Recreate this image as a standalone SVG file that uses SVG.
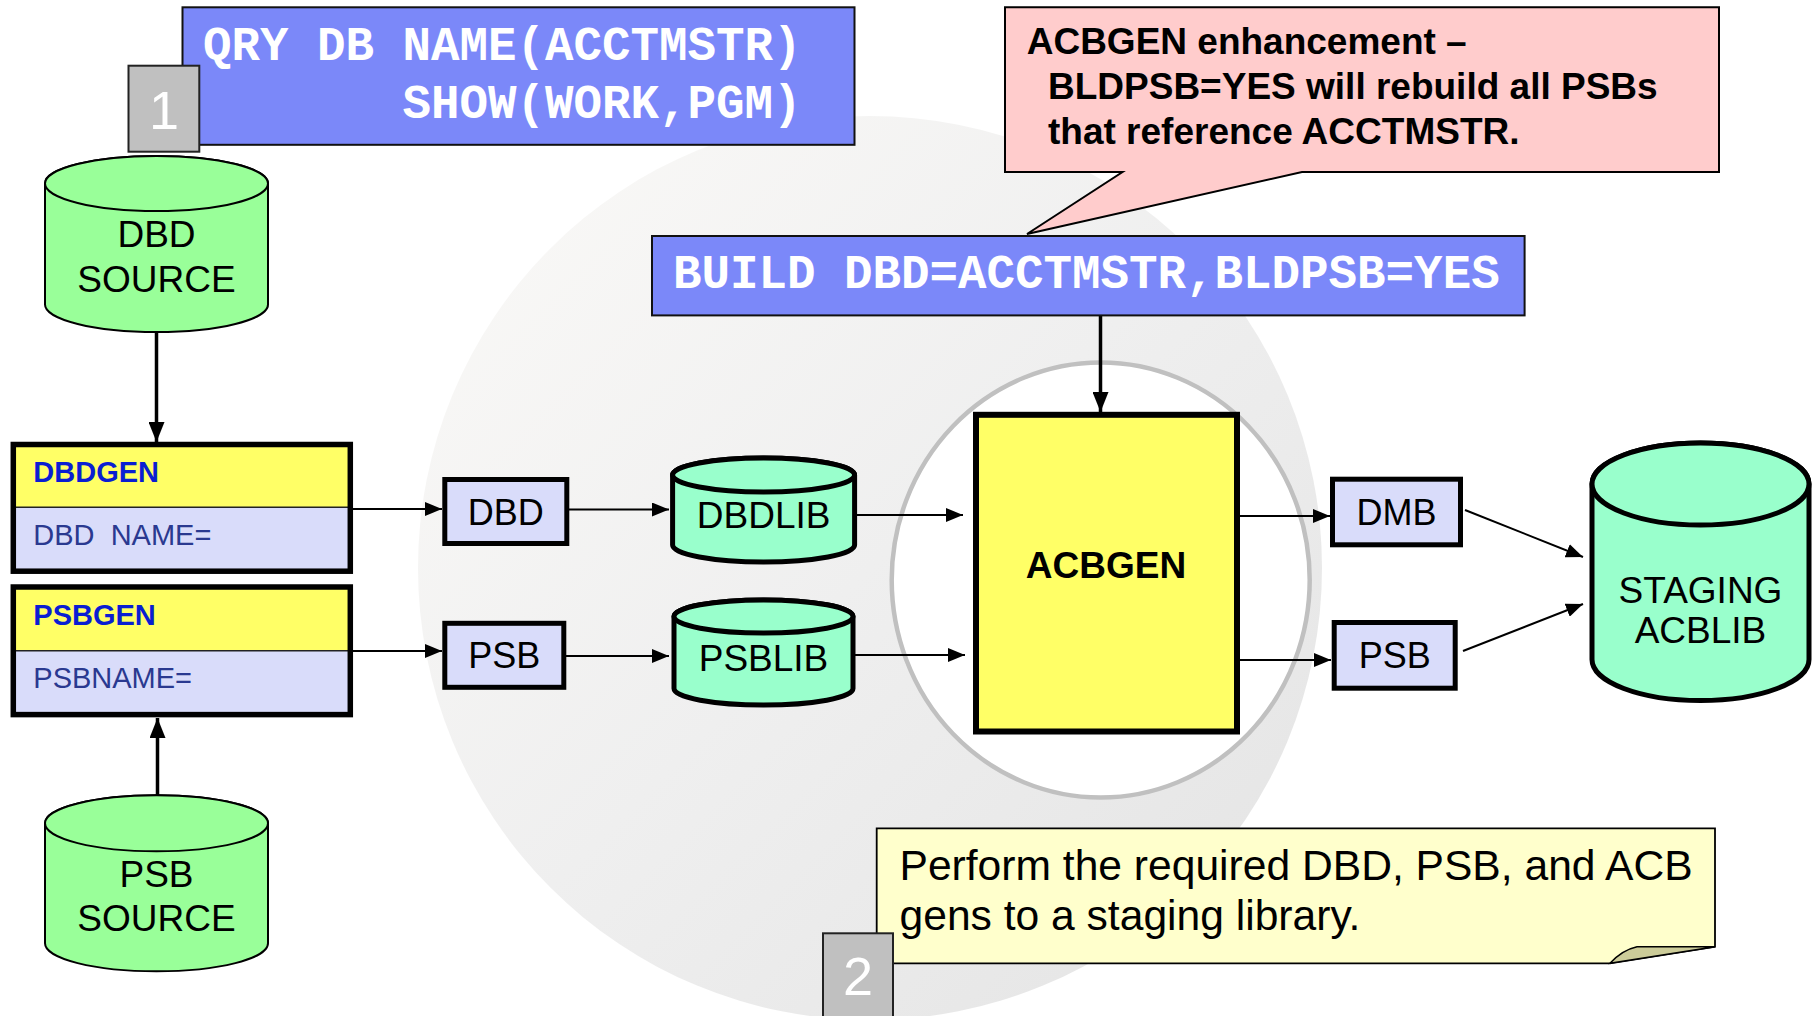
<svg xmlns="http://www.w3.org/2000/svg" width="1818" height="1016" viewBox="0 0 1818 1016">
<defs>
<style>
.sans{font-family:"Liberation Sans",Arial,sans-serif;}
.mono{font-family:"Liberation Mono","Courier New",monospace;font-weight:bold;font-size:47.5px;fill:#ffffff;}
.cmd{fill:#7B88F9;stroke:#111;stroke-width:2;}
.num{fill:#C0C0C0;stroke:#222;stroke-width:2;}
.numt{font-family:"Liberation Sans",Arial,sans-serif;font-size:54px;fill:#ffffff;text-anchor:middle;}
.cyl1{fill:#99FF99;stroke:#000;stroke-width:2;}
.cyl2{fill:#99FFCC;stroke:#000;stroke-width:5;}
.box{fill:#D9DCFA;stroke:#000;stroke-width:5;}
.lbl{font-family:"Liberation Sans",Arial,sans-serif;font-size:36px;fill:#000;text-anchor:middle;}
.gen{font-family:"Liberation Sans",Arial,sans-serif;font-size:29px;font-weight:bold;fill:#0A1ED2;}
.genb{font-family:"Liberation Sans",Arial,sans-serif;font-size:29px;fill:#2A3990;}
.thin{stroke:#000;stroke-width:2;fill:none;marker-end:url(#ah);}
.thick{stroke:#000;stroke-width:3.5;fill:none;marker-end:url(#ahb);}
</style>
<marker id="ah" markerUnits="userSpaceOnUse" markerWidth="17" markerHeight="14" refX="17" refY="7" orient="auto">
<path d="M0,0 L17,7 L0,14 z" fill="#000"/>
</marker>
<marker id="ahb" markerUnits="userSpaceOnUse" markerWidth="20" markerHeight="16" refX="20" refY="8" orient="auto">
<path d="M0,0 L20,8 L0,16 z" fill="#000"/>
</marker>
<linearGradient id="bg" x1="0" y1="0" x2="1" y2="1">
<stop offset="0" stop-color="#FBFAF8"/>
<stop offset="0.5" stop-color="#EFEFEF"/>
<stop offset="1" stop-color="#E3E3E3"/>
</linearGradient>
</defs>
<rect x="0" y="0" width="1818" height="1016" fill="#ffffff"/>
<circle cx="870" cy="568" r="452" fill="url(#bg)"/>

<g id="acbgen-ring">
<ellipse cx="1100.7" cy="580" rx="209" ry="217.5" fill="#ffffff" stroke="#C0C0C0" stroke-width="4.5"/>
</g>

<g id="connectors">
<line class="thick" x1="156.5" y1="332" x2="156.5" y2="442"/>
<line class="thick" x1="157.5" y1="795" x2="157.5" y2="718"/>
<line class="thin" x1="353" y1="509" x2="442" y2="509"/>
<line class="thin" x1="353" y1="651" x2="442" y2="651"/>
<line class="thin" x1="569" y1="509.5" x2="669" y2="509.5"/>
<line class="thin" x1="566" y1="656" x2="669" y2="656"/>
<line class="thin" x1="855" y1="515" x2="963" y2="515"/>
<line class="thin" x1="853" y1="655" x2="965" y2="655"/>
<line class="thick" x1="1100.5" y1="315" x2="1100.5" y2="412"/>
<line class="thin" x1="1240" y1="516" x2="1330" y2="516"/>
<line class="thin" x1="1240" y1="660" x2="1331" y2="660"/>
<line class="thin" x1="1465" y1="510" x2="1583" y2="557"/>
<line class="thin" x1="1463" y1="651" x2="1583" y2="604"/>
</g>

<g id="qry">
<rect class="cmd" x="182.5" y="7.3" width="672" height="137.5"/>
<text class="mono" x="203" y="60">QRY DB NAME(ACCTMSTR)</text>
<text class="mono" x="402.5" y="118">SHOW(WORK,PGM)</text>
</g>

<g id="step1">
<rect class="num" x="128.5" y="65.7" width="70.8" height="86"/>
<text class="numt" x="164" y="129">1</text>
</g>

<g id="dbd-source">
<path class="cyl1" d="M45,183.5 L45,304.5 A111.5,27.5 0 0 0 268,304.5 L268,183.5 A111.5,27.5 0 0 0 45,183.5 Z"/>
<ellipse class="cyl1" cx="156.5" cy="183.5" rx="111.5" ry="27.5"/>
<text class="lbl" x="156.5" y="247" style="font-size:37px">DBD</text>
<text class="lbl" x="156.5" y="292" style="font-size:37px">SOURCE</text>
</g>

<g id="psb-source">
<path class="cyl1" d="M45,823.3 L45,943.3 A111.5,28 0 0 0 268,943.3 L268,823.3 A111.5,28 0 0 0 45,823.3 Z"/>
<ellipse class="cyl1" cx="156.5" cy="823.3" rx="111.5" ry="28"/>
<text class="lbl" x="156.5" y="887" style="font-size:37px">PSB</text>
<text class="lbl" x="156.5" y="931" style="font-size:37px">SOURCE</text>
</g>

<g id="dbdgen">
<rect x="13.3" y="444.5" width="337" height="62.8" fill="#FFFF66"/>
<rect x="13.3" y="507.3" width="337" height="63.9" fill="#D9DCFA"/>
<line x1="13.3" y1="507.3" x2="350.3" y2="507.3" stroke="#222" stroke-width="1.5"/>
<rect x="13.3" y="444.5" width="337" height="126.7" fill="none" stroke="#000" stroke-width="5.5"/>
<text class="gen" x="33.3" y="481.7">DBDGEN</text>
<text class="genb" x="33.3" y="545" xml:space="preserve">DBD  NAME=</text>
</g>

<g id="psbgen">
<rect x="13.3" y="587" width="337" height="63.7" fill="#FFFF66"/>
<rect x="13.3" y="650.7" width="337" height="63.9" fill="#D9DCFA"/>
<line x1="13.3" y1="650.7" x2="350.3" y2="650.7" stroke="#222" stroke-width="1.5"/>
<rect x="13.3" y="587" width="337" height="127.6" fill="none" stroke="#000" stroke-width="5.5"/>
<text class="gen" x="33.3" y="625">PSBGEN</text>
<text class="genb" x="33.3" y="688">PSBNAME=</text>
</g>

<g id="dbd">
<rect class="box" x="444.8" y="479.5" width="122" height="64"/>
<text class="lbl" x="505.8" y="525">DBD</text>
</g>

<g id="psb1">
<rect class="box" x="444.8" y="623.3" width="119" height="64"/>
<text class="lbl" x="504.3" y="668">PSB</text>
</g>

<g id="dbdlib">
<path class="cyl2" d="M672.6,475 L672.6,545 A91,17 0 0 0 854.6,545 L854.6,475 A91,17 0 0 0 672.6,475 Z"/>
<ellipse class="cyl2" cx="763.6" cy="475" rx="91" ry="17"/>
<text class="lbl" x="763.6" y="528" style="font-size:37px">DBDLIB</text>
</g>

<g id="psblib">
<path class="cyl2" d="M674,616.5 L674,688.5 A89.5,16.5 0 0 0 853,688.5 L853,616.5 A89.5,16.5 0 0 0 674,616.5 Z"/>
<ellipse class="cyl2" cx="763.5" cy="616.5" rx="89.5" ry="16.5"/>
<text class="lbl" x="763.5" y="671" style="font-size:37px">PSBLIB</text>
</g>

<g id="build">
<rect class="cmd" x="652" y="236" width="872.6" height="79.4"/>
<text class="mono" x="673" y="288">BUILD DBD=ACCTMSTR,BLDPSB=YES</text>
</g>

<g id="callout">
<path d="M1005,7.3 L1719,7.3 L1719,172 L1302,172 L1027,234 L1122.5,172 L1005,172 Z" fill="#FFCCCC" stroke="#000" stroke-width="2"/>
<text class="sans" font-size="37" font-weight="bold" x="1026.7" y="54">ACBGEN enhancement –</text>
<text class="sans" font-size="37" font-weight="bold" x="1048" y="99">BLDPSB=YES will rebuild all PSBs</text>
<text class="sans" font-size="37" font-weight="bold" x="1048" y="144">that reference ACCTMSTR.</text>
</g>

<g id="acbgen">
<rect x="976" y="414.8" width="261" height="316.7" fill="#FFFF66" stroke="#000" stroke-width="6"/>
<text class="lbl" x="1106" y="578" style="font-size:37px;font-weight:bold">ACBGEN</text>
</g>

<g id="dmb">
<rect class="box" x="1332.5" y="479.2" width="128" height="65.6"/>
<text class="lbl" x="1396.5" y="525">DMB</text>
</g>

<g id="psb2">
<rect class="box" x="1334.2" y="622.5" width="121" height="65.7"/>
<text class="lbl" x="1394.7" y="668">PSB</text>
</g>

<g id="staging">
<path class="cyl2" d="M1592,484 L1592,659.5 A108.5,41 0 0 0 1809,659.5 L1809,484 A108.5,41 0 0 0 1592,484 Z"/>
<ellipse class="cyl2" cx="1700.5" cy="484" rx="108.5" ry="41"/>
<text class="lbl" x="1700.5" y="603" style="font-size:37px">STAGING</text>
<text class="lbl" x="1700.5" y="643" style="font-size:37px">ACBLIB</text>
</g>

<g id="note">
<path d="M876.7,828.3 L1715,828.3 L1715,946.7 L1610,963.3 L876.7,963.3 Z" fill="#FFFFCC" stroke="#000" stroke-width="1.8"/>
<path d="M1610,963.3 Q1622,950 1637,946.7 L1715,946.7 Z" fill="#CCCC99" stroke="#000" stroke-width="1.5"/>
<text class="sans" font-size="42.6" x="899.5" y="880">Perform the required DBD, PSB, and ACB</text>
<text class="sans" font-size="42.6" x="899.5" y="930">gens to a staging library.</text>
</g>

<g id="step2">
<rect class="num" x="823" y="933.3" width="70" height="90"/>
<text class="numt" x="858" y="995">2</text>
</g>
</svg>
